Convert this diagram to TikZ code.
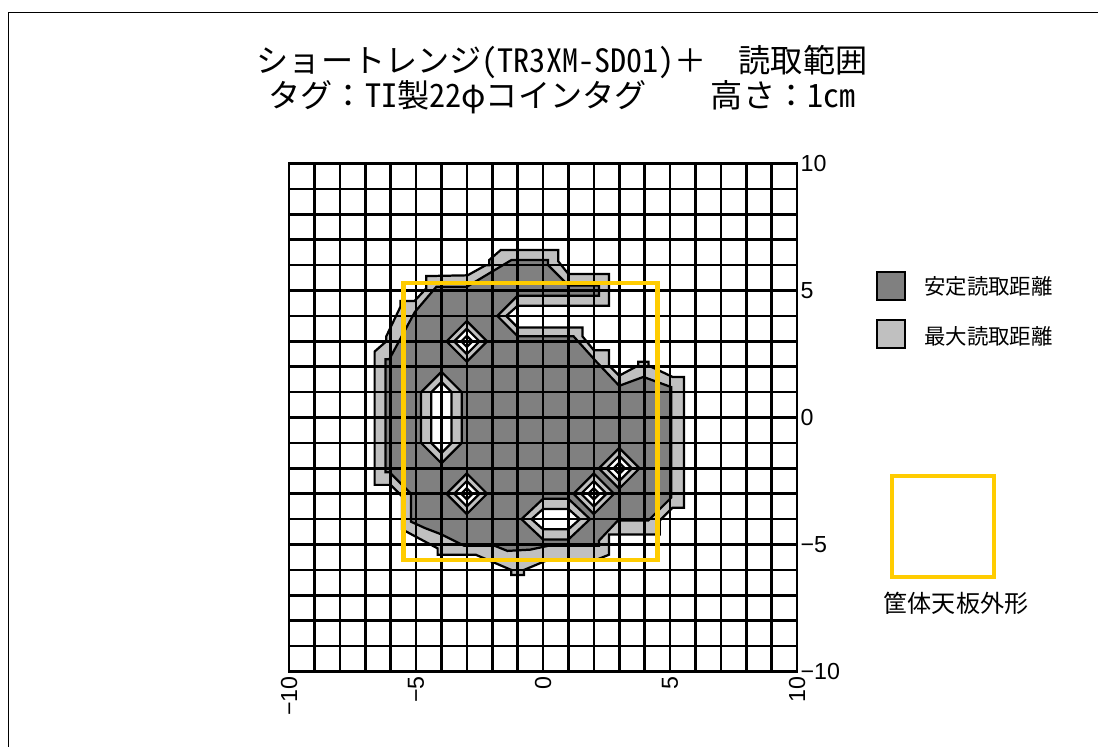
\documentclass[tikz,border=0pt]{standalone}
\usepackage{fontspec}
\setmainfont{Liberation Sans}
\newfontfamily\jpfont{Noto Sans CJK JP}
\newfontfamily\jphw[RawFeature=+hwid]{Noto Sans CJK JP}
\usetikzlibrary{positioning}
\definecolor{darkzone}{HTML}{808080}
\definecolor{lightzone}{HTML}{C0C0C0}
\definecolor{casegold}{HTML}{FFCC00}

\begin{document}
\begin{tikzpicture}[
  zoneline/.style={draw=black,line width=2.5pt},
  gridline/.style={line width=2.9pt,line cap=rect},
  caseline/.style={draw=casegold,line width=5pt},
  tick/.style={font=\fontsize{26}{30}\selectfont,inner sep=1pt},
  jptitle/.style={font=\jpfont\fontsize{36}{40}\selectfont,inner sep=0pt}
]
\useasboundingbox (-21.38,-12.97) rectangle (21.85,16.44);
\draw[line width=1.2pt] (-21.04,-12.97) -- (-21.04,15.94) -- (21.85,15.94);

\node[jptitle] (title1) at (0.75,14.0) {ショートレンジ{\jphw (TR3XM-SD01)}＋　読取範囲};
\node[jptitle] (title2) at (0.75,12.62) {タグ：{\jphw TI}製{\jphw 22}φコインタグ　　高さ：{\jphw 1cm}};

\filldraw[fill=lightzone,zoneline] (-1.66,6.6) -- (0.6,6.6) -- (0.6,6.15) -- (1.0,5.65) -- (2.6,5.65) -- (2.6,4.4)
  -- (-1.0,4.4) -- (-1.45,4.0) -- (-1.0,3.55) -- (1.55,3.55) -- (1.55,3.2) -- (2.0,2.65) -- (2.6,2.65) -- (2.6,2.05)
  -- (3.0,1.65) -- (3.75,2.05) -- (3.75,2.2) -- (4.15,2.2) -- (4.15,2.05) -- (5.1,1.6) -- (5.55,1.6) -- (5.55,-3.55)
  -- (5.1,-3.55) -- (4.6,-4.05) -- (4.6,-4.6) -- (2.6,-4.6) -- (2.6,-5.4) -- (2.1,-5.6) -- (0.2,-5.6) -- (-0.75,-6.0)
  -- (-0.75,-6.2) -- (-1.25,-6.2) -- (-1.25,-6.0) -- (-2.65,-5.4) -- (-4.15,-5.4) -- (-4.15,-5.15) -- (-5.55,-4.4)
  -- (-5.55,-3.1) -- (-6.0,-2.65) -- (-6.63,-2.65) -- (-6.63,2.6) -- (-6.17,3.0) -- (-6.17,3.2) -- (-5.61,4.37)
  -- (-5.61,4.59) -- (-5.06,4.59) -- (-4.6,5.08) -- (-4.6,5.57) -- (-2.97,5.6) -- (-2.25,6.0) -- (-2.12,6.0)
  -- (-2.12,6.2) -- cycle;

\filldraw[fill=darkzone,zoneline] (-1.25,6.2) -- (0.2,6.2) -- (0.2,6.0) -- (1.0,5.2) -- (2.2,5.2) -- (2.2,4.8)
  -- (-1.0,4.8) -- (-1.8,4.0) -- (-1.0,3.2) -- (1.2,3.2) -- (2.1,2.2) -- (3.0,1.25) -- (3.95,1.6) -- (5.05,1.2)
  -- (5.05,-3.15) -- (4.15,-4.05) -- (2.95,-4.05) -- (2.2,-4.85) -- (2.2,-5.05) -- (0.2,-5.05) -- (-0.5,-5.2)
  -- (-1.4,-5.25) -- (-1.9,-5.05) -- (-3.1,-5.05) -- (-4.0,-4.6) -- (-4.65,-4.35) -- (-5.2,-4.1) -- (-5.2,-3.0)
  -- (-6.05,-2.15) -- (-6.2,-2.15) -- (-6.2,2.3) -- (-6.05,2.3) -- (-5.05,4.15) -- (-4.2,5.15) -- (-3.0,5.15) -- cycle;

\filldraw[fill=lightzone,zoneline] (-4,1.8) -- (-4.8,1) -- (-4.8,-1) -- (-4,-1.8) -- (-3.2,-1) -- (-3.2,1) -- cycle;
\filldraw[fill=white,zoneline] (-4,1.4) -- (-4.4,1) -- (-4.4,-1) -- (-4,-1.4) -- (-3.6,-1) -- (-3.6,1) -- cycle;
\filldraw[fill=lightzone,zoneline] (-0.85,-4) -- (0,-3.2) -- (1,-3.2) -- (1.85,-4) -- (1,-4.8) -- (0,-4.8) -- cycle;
\filldraw[fill=white,zoneline] (-0.45,-4) -- (0,-3.6) -- (1,-3.6) -- (1.45,-4) -- (1,-4.4) -- (0,-4.4) -- cycle;

\foreach \cx/\cy in {-3/3,-3/-3,2/-3,3/-2} {
  \filldraw[fill=lightzone,zoneline] (\cx-0.8,\cy) -- (\cx,\cy+0.8) -- (\cx+0.8,\cy) -- (\cx,\cy-0.8) -- cycle;
  \filldraw[fill=white,zoneline] (\cx-0.5,\cy) -- (\cx,\cy+0.5) -- (\cx+0.5,\cy) -- (\cx,\cy-0.5) -- cycle;
  \draw[zoneline] (\cx-0.22,\cy) -- (\cx,\cy+0.22) -- (\cx+0.22,\cy) -- (\cx,\cy-0.22) -- cycle;
}

\foreach \k in {-10,...,10} {
  \draw[gridline] (\k,-10) -- (\k,10);
  \draw[gridline] (-10,\k) -- (10,\k);
}

\foreach \v/\t in {10/10,5/5,0/0,-5/−5,-10/−10} {
  \node[tick,anchor=west] (ry\v) at (10.1,\v) {\t};
  \node[tick,anchor=east,rotate=90] (bx\v) at (\v,-10.15) {\t};
}

\draw[caseline] (-5.5,-5.6) rectangle (4.5,5.3);

\filldraw[fill=darkzone,line width=2.2pt] (13.15,4.63) rectangle (14.25,5.73);
\node[anchor=west,inner sep=0pt,font=\jpfont\fontsize{24}{28}\selectfont] (stable) at (15.0,5.15) {安定読取距離};
\filldraw[fill=lightzone,line width=2.2pt] (13.15,2.74) rectangle (14.25,3.84);
\node[anchor=west,inner sep=0pt,font=\jpfont\fontsize{24}{28}\selectfont] (maxrange) at (15.0,3.2) {最大読取距離};
\draw[caseline] (13.74,-6.28) rectangle (17.76,-2.3);
\node[font=\jpfont\fontsize{27}{30}\selectfont] (outline) at (16.26,-7.3) {筐体天板外形};
\end{tikzpicture}
\end{document}
